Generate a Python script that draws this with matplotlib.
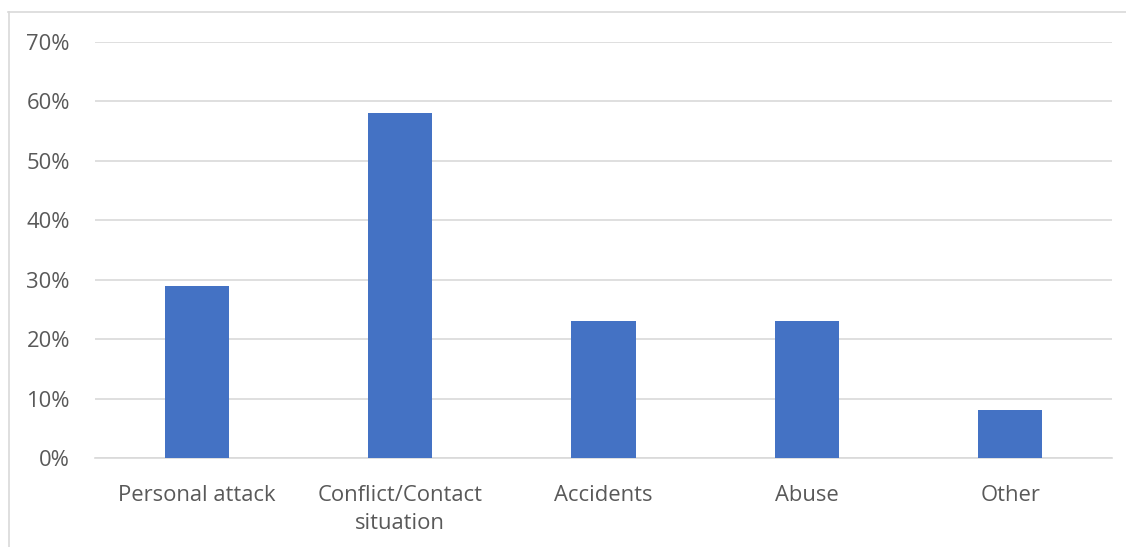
import numpy as np
import matplotlib
matplotlib.use("Agg")
import matplotlib.pyplot as plt
from matplotlib.lines import Line2D
from matplotlib.ticker import FuncFormatter

# data
categories = ["Personal attack", "Conflict/Contact\nsituation", "Accidents", "Abuse", "Other"]
shares = [29, 58, 23, 23, 8]          # percent
yticks = [0, 10, 20, 30, 40, 50, 60, 70]

plt.rcParams["font.family"] = ["Open Sans", "DejaVu Sans"]
txt = "#595959"
grid = "#d9d9d9"
bar_col = "#4472C4"

W, H = 1126, 547
fig = plt.figure(figsize=(W / 100, H / 100), dpi=100)
ax = fig.add_axes([95 / W, 1 - 458 / H, (1112 - 95) / W, (458 - 42) / H])

x = np.arange(len(categories))
ax.bar(x, shares, width=0.315, color=bar_col, zorder=3)

ax.set_xlim(-0.5, len(categories) - 0.5)
ax.set_ylim(0, 70)
ax.set_yticks(yticks)
ax.yaxis.set_major_formatter(FuncFormatter(lambda v, p: f"{int(v)}%"))
ax.set_xticks(x)
ax.set_xticklabels(categories, fontsize=15.8, color=txt, linespacing=1.45)
ax.tick_params(axis="y", labelsize=15.8, labelcolor=txt, length=0, pad=18)
ax.tick_params(axis="x", length=0, pad=19.5)

ax.grid(axis="y", color=grid, lw=1.2, zorder=0)
for s in ["top", "right", "left"]:
    ax.spines[s].set_visible(False)
ax.spines["bottom"].set_color(grid)
ax.spines["bottom"].set_linewidth(1.2)

# chart-area border (cropped on the right/bottom)
fig.add_artist(Line2D([8 / W, 1], [1 - 11.5 / H, 1 - 11.5 / H], color=grid, lw=1.2,
                      transform=fig.transFigure))
fig.add_artist(Line2D([8.5 / W, 8.5 / W], [0, 1 - 11.5 / H], color=grid, lw=1.2,
                      transform=fig.transFigure))

fig.savefig("out.png", dpi=100)
